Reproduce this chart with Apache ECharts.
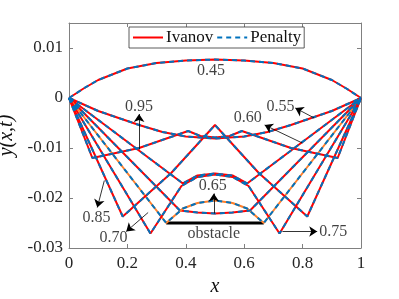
<!DOCTYPE html>
<html><head><meta charset="utf-8">
<script src="https://cdn.jsdelivr.net/npm/echarts@6/dist/echarts.min.js"></script>
<style>html,body{margin:0;padding:0;background:#fff}#c{width:399px;height:299px}</style>
</head><body><div id="c"></div>
<script>
// ---- data ----
const x045 = [0,0.05,0.1,0.2,0.3,0.4,0.5,0.6,0.7,0.8,0.9,0.95,1];
const y045 = [0,0.0019,0.0036,0.0059,0.0070,0.0075,0.0077,0.0075,0.0070,0.0059,0.0036,0.0019,0];
const x055 = [0,0.1,0.24,0.32,0.4,0.5,0.6,0.68,0.76,0.9,1];
const y055 = [0,-0.0026,-0.0054,-0.0068,-0.0077,-0.0081,-0.0077,-0.0068,-0.0054,-0.0026,0];
const x060 = [0,0.39,0.44,0.5,0.56,0.61,1];
const y060 = [0,-0.0171,-0.0155,-0.0151,-0.0155,-0.0171,0];
const x065 = [0,0.38,0.44,0.5,0.56,0.62,1];
const y065 = [0,-0.0225,-0.0229,-0.0231,-0.0229,-0.0225,0];
const x070 = [0,0.333,0.39,0.44,0.5,0.56,0.61,0.667,1];
const y070 = [0,-0.025,-0.0221,-0.0210,-0.0205,-0.0210,-0.0221,-0.025,0];
const x075 = [0,0.279,0.385,0.44,0.5,0.56,0.615,0.721,1];
const y075 = [0,-0.0271,-0.0176,-0.0158,-0.0153,-0.0158,-0.0176,-0.0271,0];
const x085 = [0,0.184,0.35,0.5,0.65,0.816,1];
const y085 = [0,-0.0237,-0.0150,-0.0054,-0.0150,-0.0237,0];
const x095 = [0,0.08,0.24,0.408,0.45,0.5,0.55,0.592,0.76,0.92,1];
const y095 = [0,-0.0120,-0.0100,-0.0066,-0.0076,-0.0079,-0.0076,-0.0066,-0.0100,-0.0120,0];

const obstacleX = [0.333, 0.667];
const obstacleY = [-0.025, -0.025];

const labelTexts = ['0.45','0.55','0.60','0.65','0.70','0.75','0.85','0.95','obstacle'];
const labelX = [0.486, 0.724, 0.612, 0.492, 0.152, 0.905, 0.094, 0.240, 0.496];
const labelY = [0.0054, -0.0018, -0.0040, -0.0175, -0.0279, -0.0267, -0.0239, -0.0018, -0.0271];

const arrowTailX = [0.840, 0.799, 0.496, 0.271, 0.731, 0.121, 0.240];
const arrowTailY = [-0.0040, -0.0090, -0.0231, -0.0229, -0.0267, -0.0165, -0.0103];
const arrowHeadX = [0.775, 0.670, 0.496, 0.196, 0.850, 0.097, 0.240];
const arrowHeadY = [-0.0020, -0.0054, -0.0191, -0.0267, -0.0267, -0.0219, -0.0032];

const xTicks = [0, 0.2, 0.4, 0.6, 0.8, 1];
const yTicks = [-0.03, -0.02, -0.01, 0, 0.01];
// ---- build ----
const zip = (xs, ys) => xs.map((v, i) => [v, ys[i]]);
const curves = [
  [x045, y045, '#ff0000'], [x055, y055, '#ff0000'], [x060, y060, '#ff0000'],
  [x065, y065, '#ff0000'], [x070, y070, '#ff7f2a'], [x075, y075, '#ff0000'],
  [x085, y085, '#ff0000'], [x095, y095, '#ff0000']
];
const series = [];
series.push({type:'line', data: zip(obstacleX, obstacleY), symbol:'none', silent:true,
  lineStyle:{color:'#000', width:3}, z:1});
curves.forEach(c => {
  series.push({name:'Ivanov', type:'line', data: zip(c[0], c[1]), symbol:'none',
    lineStyle:{color:c[2], width:2}, itemStyle:{color:'#ff0000'}, z:2});
});
curves.forEach(c => {
  series.push({name:'Penalty', type:'line', data: zip(c[0], c[1]), symbol:'none',
    lineStyle:{color:'#0072bd', width:2, type:[5,4]}, itemStyle:{color:'#0072bd'}, z:3});
});
series.push({type:'scatter', symbolSize:0, silent:true, z:5,
  data: labelTexts.map((t,i)=>({value:[labelX[i], labelY[i]], name:t})),
  label:{show:true, position:'inside', formatter: p => p.name, color:'#111',
    fontFamily:'Liberation Serif', fontSize:16}});
series.push({type:'line', data:[], silent:true, z:4,
  markLine:{silent:true, symbol:['none','arrow'], symbolSize:8, label:{show:false},
    lineStyle:{color:'#000', width:0.8, type:'solid'},
    data: arrowTailX.map((v,i)=>[{coord:[v, arrowTailY[i]]},{coord:[arrowHeadX[i], arrowHeadY[i]]}])}});

const chart = echarts.init(document.getElementById('c'), null, {renderer:'canvas'});
const axisCol = '#808080';
chart.setOption({
  animation:false,
  grid:{left:69, right:38, top:23, bottom:51, containLabel:false, outerBoundsMode:'none'},
  legend:{data:['Ivanov','Penalty'], top:27, left:129, itemGap:3, itemWidth:30, itemHeight:10,
    padding:[2,3,2,3], borderColor:'#333', borderWidth:0.8, backgroundColor:'#fff',
    itemStyle:{opacity:0},
    textStyle:{fontFamily:'Liberation Serif', fontSize:17, color:'#111', padding:[0,0,0,-2]}},
  xAxis:[{type:'value', min:0, max:1, interval:0.2, position:'bottom',
    name:'x', nameLocation:'middle', nameGap:27,
    nameTextStyle:{fontFamily:'Liberation Serif', fontStyle:'italic', fontSize:20, color:'#111'},
    axisLine:{onZero:false, lineStyle:{color:axisCol}}, axisTick:{inside:true, length:4, lineStyle:{color:axisCol}},
    splitLine:{show:false},
    axisLabel:{fontFamily:'Liberation Serif', fontSize:17, color:'#262626', margin:7}},
   {type:'value', min:0, max:1, interval:0.2, position:'top',
    axisLine:{onZero:false, lineStyle:{color:axisCol}}, axisTick:{inside:true, length:4, lineStyle:{color:axisCol}},
    axisLabel:{show:false}, splitLine:{show:false}}],
  yAxis:[{type:'value', min:-0.03, max:0.015, interval:0.01, position:'left',
    name:'y(x,t)', nameLocation:'middle', nameGap:44, nameRotate:90,
    nameTextStyle:{fontFamily:'Liberation Serif', fontStyle:'italic', fontSize:20, color:'#111'},
    axisLine:{show:true, onZero:false, lineStyle:{color:axisCol}}, axisTick:{show:true, inside:true, length:4, lineStyle:{color:axisCol}},
    splitLine:{show:false},
    axisLabel:{fontFamily:'Liberation Serif', fontSize:17, color:'#262626', margin:6, showMaxLabel:false,
      formatter: v => (yTicks.some(t=>Math.abs(t-v)<1e-9) ? String(+v.toFixed(2)) : '')}},
   {type:'value', min:-0.03, max:0.015, interval:0.01, position:'right',
    axisLine:{show:true, onZero:false, lineStyle:{color:axisCol}}, axisTick:{show:true, inside:true, length:4, lineStyle:{color:axisCol}},
    axisLabel:{show:false}, splitLine:{show:false}}],
  series: series
});
</script></body></html>
